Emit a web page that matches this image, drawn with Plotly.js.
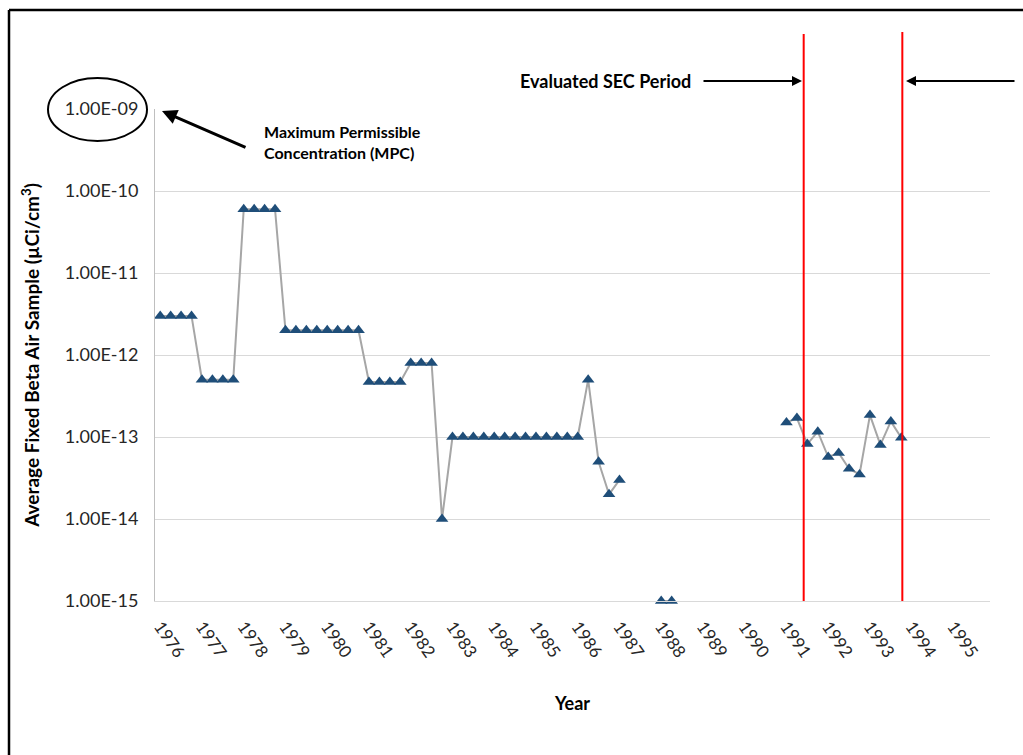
<!DOCTYPE html>
<html>
<head>
<meta charset="utf-8">
<script src="https://cdn.plot.ly/plotly-3.0.1.min.js"></script>
<style>
  html, body { margin: 0; padding: 0; background: #ffffff; }
  #chart { width: 1023px; height: 755px; }
</style>
</head>
<body>
<div id="chart"></div>
<script>
// ---- Data ----
const years = [1976, 1977, 1978, 1979, 1980, 1981, 1982, 1983, 1984, 1985,
               1986, 1987, 1988, 1989, 1990, 1991, 1992, 1993, 1994, 1995];
const quarters = ['Q1', 'Q2', 'Q3', 'Q4'];

// Average fixed beta air sample (µCi/cm³), one value per quarter (null = no data)
const betaValues = [
  3e-12,   3e-12,   3e-12,   3e-12,     // 1976
  5e-13,   5e-13,   5e-13,   5e-13,     // 1977
  6e-11,   6e-11,   6e-11,   6e-11,     // 1978
  2e-12,   2e-12,   2e-12,   2e-12,     // 1979
  2e-12,   2e-12,   2e-12,   2e-12,     // 1980
  4.7e-13, 4.7e-13, 4.7e-13, 4.7e-13,   // 1981
  8e-13,   8e-13,   8e-13,   1e-14,     // 1982
  1e-13,   1e-13,   1e-13,   1e-13,     // 1983
  1e-13,   1e-13,   1e-13,   1e-13,     // 1984
  1e-13,   1e-13,   1e-13,   1e-13,     // 1985
  1e-13,   5e-13,   5e-14,   2e-14,     // 1986
  3e-14,   null,    null,    null,      // 1987
  1e-15,   1e-15,   null,    null,      // 1988
  null,    null,    null,    null,      // 1989
  null,    null,    null,    null,      // 1990
  1.5e-13, 1.7e-13, 8.2e-14, 1.16e-13,  // 1991
  5.7e-14, 6.4e-14, 4.1e-14, 3.5e-14,   // 1992
  1.85e-13, 8e-14,  1.55e-13, 9.8e-14,  // 1993
  null,    null,    null,    null,      // 1994
  null,    null,    null,    null       // 1995
];

const yTickVals = [1e-15, 1e-14, 1e-13, 1e-12, 1e-11, 1e-10, 1e-9];
const yTickText = ['1.00E-15', '1.00E-14', '1.00E-13', '1.00E-12', '1.00E-11', '1.00E-10', '1.00E-09'];

// Evaluated SEC period boundaries (position on the quarter axis)
const secStart = 61.65;
const secEnd = 71.1;

// ---- Build categories ----
const categories = [];
years.forEach(y => quarters.forEach(q => categories.push(y + ' ' + q)));
const xTickVals = years.map(y => y + ' Q1');
const xTickText = years.map(String);

const FONT = 'Lato, "Open Sans", sans-serif';

const trace = {
  type: 'scatter',
  mode: 'lines+markers',
  x: categories,
  y: betaValues,
  connectgaps: false,
  cliponaxis: false,
  line: { color: '#a6a6a6', width: 2 },
  marker: { symbol: 'triangle-up', size: 11, color: '#1f4e79' },
  hoverinfo: 'x+y',
  showlegend: false
};

const W = 1023, H = 755;
const L = 155, R = 33, T = 109, B = 154;
const pw = W - L - R, ph = H - T - B;
const px = v => (v - L) / pw;           // pixel x -> paper x
const py = v => (H - B - v) / ph;       // pixel y -> paper y

const layout = {
  width: W,
  height: H,
  margin: { l: L, r: R, t: T, b: B },
  paper_bgcolor: '#ffffff',
  plot_bgcolor: '#ffffff',
  font: { family: FONT, color: '#262626' },
  xaxis: {
    type: 'category',
    categoryorder: 'array',
    categoryarray: categories,
    range: [-0.5, 79.5],
    tickmode: 'array',
    tickvals: xTickVals,
    ticktext: xTickText,
    tickangle: 55,
    ticklabelstandoff: 8,
    tickfont: { family: FONT, size: 17, color: '#262626' },
    showgrid: false,
    showline: true,
    linecolor: '#d9d9d9',
    linewidth: 1,
    ticks: '',
    zeroline: false,
    title: { text: '<b>Year</b>', font: { family: FONT, size: 18, color: '#000000' }, standoff: 36 }
  },
  yaxis: {
    type: 'log',
    range: [-15, -9],
    tickmode: 'array',
    tickvals: yTickVals,
    ticktext: yTickText,
    ticklabelstandoff: 12,
    tickfont: { family: FONT, size: 18, color: '#262626' },
    showgrid: true,
    gridcolor: '#d9d9d9',
    gridwidth: 1,
    showline: true,
    linecolor: '#bfbfbf',
    linewidth: 1,
    ticks: '',
    zeroline: false,
    title: { text: '<b>Average Fixed Beta Air Sample (µCi/cm<sup>3</sup>)</b>', font: { family: FONT, size: 19, color: '#000000' }, standoff: 20 }
  },
  shapes: [
    // outer frame
    { type: 'line', xref: 'paper', yref: 'paper', x0: px(9), x1: px(1030), y0: py(10), y1: py(10), line: { color: '#000000', width: 2.5 } },
    { type: 'line', xref: 'paper', yref: 'paper', x0: px(9), x1: px(9), y0: py(10), y1: py(770), line: { color: '#000000', width: 2.5 } },
    // SEC period boundaries
    { type: 'line', xref: 'x', yref: 'paper', x0: secStart, x1: secStart, y0: 0, y1: py(34), line: { color: '#ff0000', width: 2 } },
    { type: 'line', xref: 'x', yref: 'paper', x0: secEnd, x1: secEnd, y0: 0, y1: py(32), line: { color: '#ff0000', width: 2 } },
    // ellipse around MPC
    { type: 'circle', xref: 'paper', yref: 'paper', x0: px(48), x1: px(147), y0: py(141), y1: py(78), line: { color: '#000000', width: 2 } }
  ],
  annotations: [
    { xref: 'paper', yref: 'paper', x: px(693), y: py(81), xanchor: 'right', yanchor: 'middle',
      text: '<b>Evaluated SEC Period</b>', showarrow: false, font: { family: FONT, size: 18, color: '#000000' } },
    { xref: 'paper', yref: 'paper', x: px(802), y: py(81), ax: -100, ay: 0, text: '',
      showarrow: true, arrowhead: 2, arrowsize: 1, arrowwidth: 2, arrowcolor: '#000000' },
    { xref: 'paper', yref: 'paper', x: px(906), y: py(81), ax: 110, ay: 0, text: '',
      showarrow: true, arrowhead: 2, arrowsize: 1, arrowwidth: 2, arrowcolor: '#000000' },
    { xref: 'paper', yref: 'paper', x: px(162), y: py(111), ax: 85, ay: 37, text: '',
      showarrow: true, arrowhead: 2, arrowsize: 1, arrowwidth: 3, arrowcolor: '#000000' },
    { xref: 'paper', yref: 'paper', x: px(262), y: py(142), xanchor: 'left', yanchor: 'middle', align: 'left',
      text: '<b>Maximum Permissible</b><br><b>Concentration (MPC)</b>', showarrow: false,
      font: { family: FONT, size: 16, color: '#000000' } }
  ]
};

Plotly.newPlot('chart', [trace], layout, { displayModeBar: false, staticPlot: true });
</script>
</body>
</html>
